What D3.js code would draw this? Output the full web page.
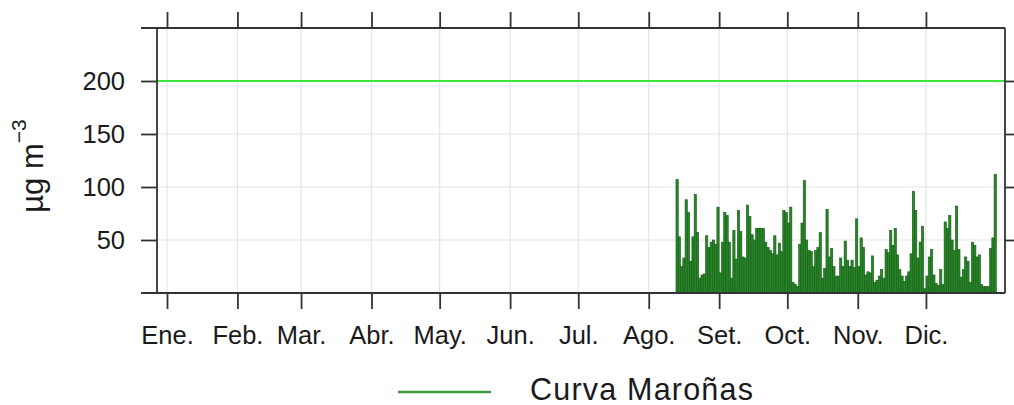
<!DOCTYPE html>
<html lang="es">
<head>
  <meta charset="UTF-8">
  <title>Curva Maroñas</title>
  <style>
    body { margin: 0; background: #fff; }
    text { font-family: "Liberation Sans", Arial, sans-serif; fill: #1a1a1a; }
  </style>
</head>
<body>
<script src="https://d3js.org/d3.v7.min.js"></script>
<script>
  // daily values, from 13 Aug to 31 Dec
  const startDay = "2015-08-13";
  const values = [
    107,53,25,33,88,76,30,53,93,57,14,17,18,54,43,48,50,46,81,19,48,76,73,48,14,59,32,78,58,34,33,83,72,55,50,
    61,61,61,61,48,43,40,37,54,36,47,39,78,76,66,81,10,8,6,46,66,106,50,40,39,25,40,43,57,14,23,79,34,42,25,16,
    16,33,25,49,31,25,31,24,70,25,52,43,17,20,19,35,10,12,16,22,14,41,38,59,45,61,36,22,16,11,16,20,37,
    96,78,33,48,63,4,16,34,41,17,9,7,22,8,67,61,73,50,40,82,41,15,22,34,30,10,48,45,34,36,8,6,6,6,42,52,112
  ];
  const monthLabels = ["Ene.","Feb.","Mar.","Abr.","May.","Jun.","Jul.","Ago.","Set.","Oct.","Nov.","Dic."];
  const yTicks = [50, 100, 150, 200];
  const limit = 200;
  const seriesName = "Curva Maroñas";

  const W = 1014, H = 405;
  const pL = 157, pR = 1005, pT = 28, pB = 293;
  const dayMs = 864e5;
  const jan1 = Date.UTC(2015, 0, 1);

  const svg = d3.select("body").append("svg")
      .attr("width", W)
      .attr("height", H);

  const x = d3.scaleUtc()
      .domain([new Date(jan1 - 4.4 * dayMs), new Date(jan1 + 368.8 * dayMs)])
      .range([pL, pR]);
  const y = d3.scaleLinear()
      .domain([0, 250])
      .range([pB, pT]);

  const months = d3.range(12).map(m => new Date(Date.UTC(2015, m, 1)));
  const start = d3.isoParse(startDay + "T00:00:00Z");
  const data = values.map((v, i) => ({ date: d3.utcDay.offset(start, i), v: v }));

  // grid
  svg.append("g").selectAll("line")
      .data(months).join("line")
      .attr("x1", d => x(d)).attr("x2", d => x(d))
      .attr("y1", pT).attr("y2", pB)
      .attr("stroke", "#e4e4e4").attr("stroke-width", 1.2);
  svg.append("g").selectAll("line")
      .data(yTicks).join("line")
      .attr("x1", pL).attr("x2", pR)
      .attr("y1", d => y(d)).attr("y2", d => y(d))
      .attr("stroke", "#e4e4e4").attr("stroke-width", 1.2);

  // bars
  svg.append("g").selectAll("rect")
      .data(data).join("rect")
      .attr("x", d => x(d.date))
      .attr("width", d => x(d3.utcDay.offset(d.date, 1)) - x(d.date))
      .attr("y", d => y(d.v))
      .attr("height", d => y(0) - y(d.v))
      .attr("fill", "#288528")
      .attr("stroke", "#125a12")
      .attr("stroke-width", 0.6);

  // limit line
  svg.append("line")
      .attr("x1", pL).attr("x2", pR)
      .attr("y1", y(limit)).attr("y2", y(limit))
      .attr("stroke", "#3ae63a").attr("stroke-width", 2);

  // axes
  const axisColor = "#333";
  const xb = svg.append("g")
      .attr("transform", `translate(0,${pB})`)
      .call(d3.axisBottom(x).tickValues(months).tickSize(16).tickPadding(17)
          .tickFormat((d, i) => monthLabels[i]));
  const xt = svg.append("g")
      .attr("transform", `translate(0,${pT})`)
      .call(d3.axisTop(x).tickValues(months).tickSize(16).tickFormat(""));
  const yl = svg.append("g")
      .attr("transform", `translate(${pL},0)`)
      .call(d3.axisLeft(y).tickValues(yTicks).tickSize(16).tickPadding(16));
  const yr = svg.append("g")
      .attr("transform", `translate(${pR},0)`)
      .call(d3.axisRight(y).tickValues(yTicks).tickSize(16).tickFormat(""));

  [xb, xt, yl, yr].forEach(g => {
    g.select(".domain").remove();
    g.selectAll(".tick line").attr("stroke", axisColor).attr("stroke-width", 1.8);
    g.selectAll(".tick text")
        .attr("font-size", 25.5)
        .attr("font-family", '"Liberation Sans", Arial, sans-serif')
        .attr("fill", "#1a1a1a");
  });

  // frame
  const frame = svg.append("g").attr("stroke", axisColor).attr("stroke-width", 1.8);
  frame.append("line").attr("x1", pL - 16).attr("x2", pR).attr("y1", pT).attr("y2", pT);
  frame.append("line").attr("x1", pL - 16).attr("x2", pR).attr("y1", pB).attr("y2", pB);
  frame.append("line").attr("x1", pL).attr("x2", pL).attr("y1", pT).attr("y2", pB);
  frame.append("line").attr("x1", pR).attr("x2", pR).attr("y1", pT).attr("y2", pB);

  // y label
  const yLab = svg.append("text")
      .attr("transform", "translate(43,166) rotate(-90)")
      .attr("text-anchor", "middle")
      .attr("font-size", 31);
  yLab.append("tspan").text("µg m");
  yLab.append("tspan").attr("dy", -17).attr("font-size", 21).text("−3");

  // legend
  svg.append("line")
      .attr("x1", 398).attr("x2", 491)
      .attr("y1", 392).attr("y2", 392)
      .attr("stroke", "#3f9a3f").attr("stroke-width", 2.5);
  svg.append("text")
      .attr("x", 530).attr("y", 400)
      .attr("font-size", 30.5)
      .attr("letter-spacing", 1.2)
      .text(seriesName);
</script>
</body>
</html>
